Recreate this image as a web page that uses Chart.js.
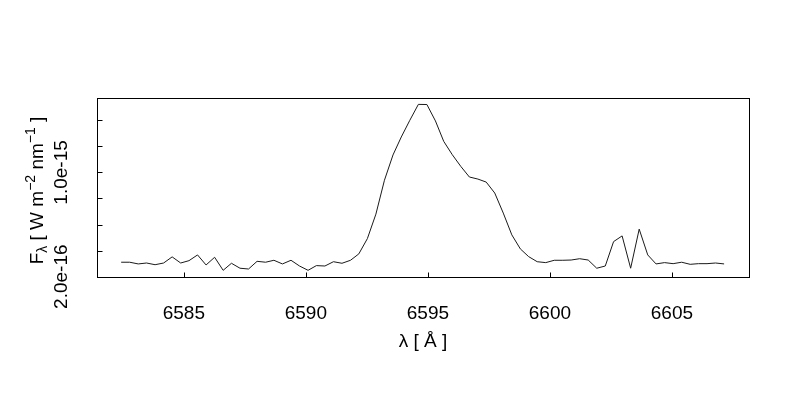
<!DOCTYPE html>
<html><head><meta charset="utf-8">
<script src="https://cdn.jsdelivr.net/npm/chart.js@4/dist/chart.umd.min.js"></script>
<style>html,body{margin:0;padding:0;background:#fff}#wrap{width:800px;height:400px}</style>
</head><body><div id="wrap"><canvas id="c" width="800" height="400"></canvas></div>
<script>
const wavelength = [
  6582.43, 6582.78, 6583.13, 6583.47, 6583.82, 6584.17, 6584.52, 6584.87, 6585.21, 6585.56,
  6585.91, 6586.26, 6586.61, 6586.95, 6587.30, 6587.65, 6588.00, 6588.35, 6588.69, 6589.04,
  6589.39, 6589.74, 6590.09, 6590.43, 6590.78, 6591.13, 6591.48, 6591.83, 6592.17, 6592.52,
  6592.87, 6593.22, 6593.57, 6593.91, 6594.26, 6594.61, 6594.96, 6595.31, 6595.65, 6596.00,
  6596.35, 6596.70, 6597.05, 6597.39, 6597.74, 6598.09, 6598.44, 6598.79, 6599.13, 6599.48,
  6599.83, 6600.18, 6600.53, 6600.87, 6601.22, 6601.57, 6601.92, 6602.27, 6602.61, 6602.96,
  6603.31, 6603.66, 6604.01, 6604.35, 6604.70, 6605.05, 6605.40, 6605.75, 6606.09, 6606.44,
  6606.79, 6607.14
];
const flux = [
  3.11e-16, 3.11e-16, 2.98e-16, 3.05e-16, 2.92e-16, 3.05e-16, 3.52e-16, 3.05e-16, 3.23e-16, 3.67e-16,
  2.90e-16, 3.49e-16, 2.49e-16, 3.03e-16, 2.65e-16, 2.59e-16, 3.18e-16, 3.11e-16, 3.26e-16, 2.98e-16,
  3.26e-16, 2.82e-16, 2.49e-16, 2.85e-16, 2.82e-16, 3.15e-16, 3.03e-16, 3.26e-16, 3.75e-16, 4.92e-16,
  6.80e-16, 9.40e-16, 1.134e-15, 1.272e-15, 1.400e-15, 1.522e-15, 1.521e-15, 1.395e-15, 1.238e-15, 1.136e-15,
  1.046e-15, 9.65e-16, 9.49e-16, 9.26e-16, 8.42e-16, 6.88e-16, 5.21e-16, 4.13e-16, 3.54e-16, 3.15e-16,
  3.08e-16, 3.26e-16, 3.26e-16, 3.28e-16, 3.38e-16, 3.28e-16, 2.65e-16, 2.82e-16, 4.69e-16, 5.13e-16,
  2.65e-16, 5.65e-16, 3.67e-16, 2.98e-16, 3.08e-16, 3.00e-16, 3.11e-16, 2.95e-16, 3.00e-16, 3.00e-16,
  3.05e-16, 2.98e-16
];
const xTickValues = [6585, 6590, 6595, 6600, 6605];
const yTickValues = [2e-16, 4e-16, 6e-16, 8e-16, 1.0e-15, 1.2e-15, 1.4e-15];
const yLabelValues = [2e-16, 1.0e-15];
const yLabelTexts = ['2.0e-16', '1.0e-15'];
const xRange = [6581.44, 6608.16];
const yRange = [1.977e-16, 1.571e-15];
const xTitle = 'λ [ Å ]';
const yTitleParts = [
  {t: 'F', kind: 'base'},
  {t: 'λ', kind: 'sub'},
  {t: ' [ W m', kind: 'base'},
  {t: '−2', kind: 'sup'},
  {t: ' nm', kind: 'base'},
  {t: '−1', kind: 'sup'},
  {t: ' ]', kind: 'base'}
];

const FONT = '"Liberation Sans", Arial, Helvetica, sans-serif';

const frame = {
  id: 'frame',
  afterDatasetsDraw(chart) {
    const {ctx, chartArea: a, scales: {x, y}} = chart;
    ctx.save();
    ctx.strokeStyle = '#000';
    ctx.lineWidth = 1;
    ctx.strokeRect(a.left + 0.5, a.top + 0.5, a.right - a.left, a.bottom - a.top);
    ctx.beginPath();
    x.ticks.forEach(t => {
      const px = Math.round(x.getPixelForValue(t.value)) + 0.5;
      ctx.moveTo(px, a.bottom + 0.5);
      ctx.lineTo(px, a.bottom - 4.5);
    });
    y.ticks.forEach(t => {
      const py = Math.round(y.getPixelForValue(t.value)) + 0.5;
      if (py < a.top || py > a.bottom + 1) return;
      ctx.moveTo(a.left + 0.5, py);
      ctx.lineTo(a.left + 5.5, py);
    });
    ctx.stroke();
    ctx.restore();
  }
};

const yTitle = {
  id: 'yTitle',
  afterDraw(chart) {
    const {ctx, chartArea: a} = chart;
    const sizes = {base: 19, sub: 14, sup: 14};
    const shift = {base: 0, sub: 4, sup: -8};
    ctx.save();
    let total = 0;
    const widths = yTitleParts.map(p => {
      ctx.font = sizes[p.kind] + 'px ' + FONT;
      const w = ctx.measureText(p.t).width;
      total += w;
      return w;
    });
    ctx.translate(43, (a.top + a.bottom) / 2 + 3);
    ctx.rotate(-Math.PI / 2);
    ctx.fillStyle = '#000';
    ctx.textAlign = 'left';
    ctx.textBaseline = 'alphabetic';
    let pos = -total / 2;
    yTitleParts.forEach((p, i) => {
      ctx.font = sizes[p.kind] + 'px ' + FONT;
      ctx.fillText(p.t, pos, shift[p.kind]);
      pos += widths[i];
    });
    ctx.restore();
  }
};

new Chart(document.getElementById('c'), {
  type: 'line',
  data: {
    datasets: [{
      data: wavelength.map((w, i) => ({x: w, y: flux[i]})),
      borderColor: '#1a1a1a',
      borderWidth: 1,
      pointRadius: 0,
      tension: 0,
      fill: false
    }]
  },
  options: {
    responsive: false,
    animation: false,
    devicePixelRatio: 1,
    layout: {padding: {top: 98, right: 51, left: 0, bottom: 0}},
    plugins: {legend: {display: false}, tooltip: {enabled: false}, title: {display: false}},
    scales: {
      x: {
        type: 'linear',
        min: xRange[0],
        max: xRange[1],
        afterBuildTicks: s => { s.ticks = xTickValues.map(v => ({value: v})); },
        afterFit: s => { s.height = 123; },
        border: {display: false},
        grid: {display: true, drawOnChartArea: false, drawTicks: false, color: 'rgba(0,0,0,0)'},
        ticks: {
          autoSkip: false, maxRotation: 0, minRotation: 0,
          padding: 25,
          color: '#000',
          font: {family: FONT, size: 19},
          callback: v => String(v)
        },
        title: {
          display: true, text: xTitle, color: '#000',
          font: {family: FONT, size: 19},
          padding: {top: 0, bottom: 47}
        }
      },
      y: {
        type: 'linear',
        min: yRange[0],
        max: yRange[1],
        afterBuildTicks: s => { s.ticks = yTickValues.map(v => ({value: v})); },
        afterFit: s => { s.width = 97; },
        border: {display: false},
        grid: {display: true, drawOnChartArea: false, drawTicks: false, color: 'rgba(0,0,0,0)'},
        ticks: {
          autoSkip: false, minRotation: 90, maxRotation: 90,
          crossAlign: 'center',
          padding: 3,
          color: '#000',
          font: {family: FONT, size: 19},
          callback: v => {
            const i = yLabelValues.findIndex(l => Math.abs(l - v) < 1e-20);
            return i >= 0 ? yLabelTexts[i] : '';
          }
        }
      }
    }
  },
  plugins: [frame, yTitle]
});
</script></body></html>
